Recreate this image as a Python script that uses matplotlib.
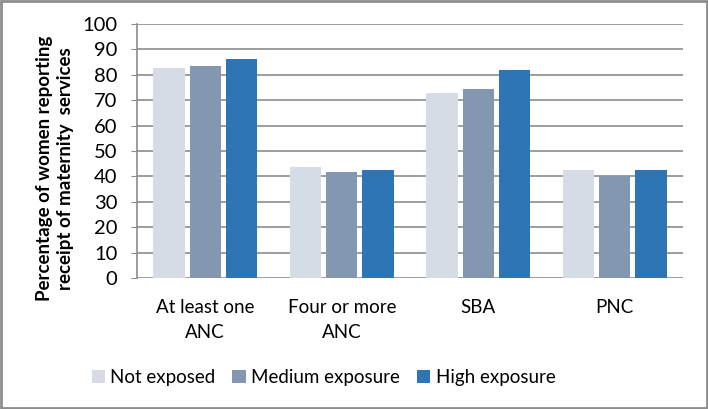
import numpy as np
import matplotlib.pyplot as plt
from matplotlib.patches import Rectangle

categories = ["At least one\nANC", "Four or more\nANC", "SBA", "PNC"]
series_names = ["Not exposed", "Medium exposure", "High exposure"]
not_exposed = [82.7, 43.6, 72.7, 42.7]
medium = [83.5, 41.9, 74.4, 40.3]
high = [86.1, 42.7, 81.9, 42.7]
colors = ["#D6DCE5", "#8497B0", "#2E75B6"]

plt.rcParams['font.family'] = ['Lato', 'DejaVu Sans']

fig = plt.figure(figsize=(7.08, 4.09), dpi=100)
ax = fig.add_axes([0.1935, 0.3203, 0.7712, 0.621])

x = np.arange(len(categories))
width = 0.23
step = 0.265
for i, (vals, name) in enumerate(zip([not_exposed, medium, high], series_names)):
    ax.bar(x + (i - 1) * step, vals, width, color=colors[i], label=name, zorder=3)

ax.set_xlim(-0.5, len(categories) - 0.5)
ax.set_ylim(0, 100)
ax.set_yticks(range(0, 101, 10))
ax.set_xticks(x)
ax.set_xticklabels(categories, fontsize=13.5, linespacing=1.55)
ax.tick_params(axis='y', labelsize=14.5, length=4, color='#8c8c8c', pad=10)
ax.tick_params(axis='x', length=0, pad=15)
ax.yaxis.grid(True, color='#8c8c8c', linewidth=1.2, zorder=0)
for s in ['top', 'right', 'bottom']:
    ax.spines[s].set_visible(False)
ax.spines['left'].set_color('#8c8c8c')
ax.spines['left'].set_linewidth(1.2)
ax.set_ylabel("Percentage of women reporting\nreceipt of maternity  services",
              fontsize=13.5, fontweight='bold', linespacing=1.3)
ax.yaxis.set_label_coords(-0.115, 0.43)

fig.legend(loc='center', bbox_to_anchor=(0.457, 0.076), ncol=3, frameon=False,
           fontsize=13.5, handlelength=0.7, handleheight=0.7, handletextpad=0.3,
           columnspacing=0.9)

fig.patches.append(Rectangle((0.002, 0.003), 0.996, 0.994, transform=fig.transFigure,
                             fill=False, edgecolor='#8c8c8c', linewidth=2))

fig.savefig("out.png", dpi=100)
